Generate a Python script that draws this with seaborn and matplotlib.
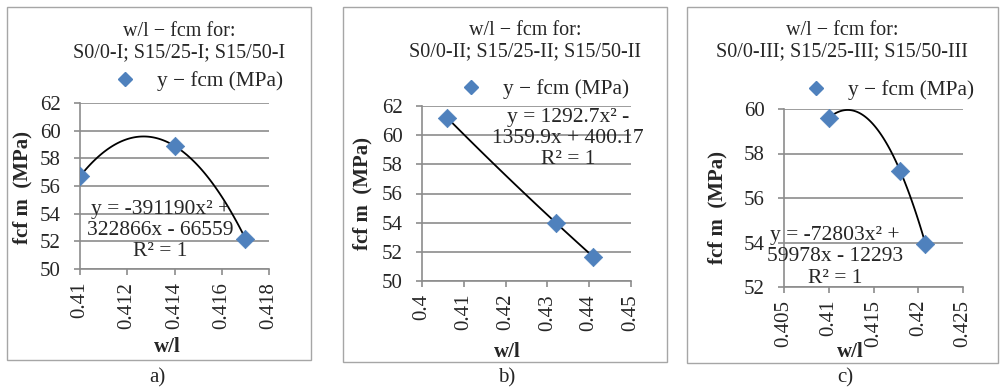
import numpy as np
import matplotlib
matplotlib.use("Agg")
import matplotlib.pyplot as plt
import seaborn as sns
from matplotlib.patches import Rectangle
from matplotlib.lines import Line2D
from matplotlib.ticker import FuncFormatter

# ---------------- data ----------------
wl_a = [0.410, 0.414, 0.417]
fcm_a = [56.7, 58.9, 52.2]
wl_b = [0.406, 0.432, 0.441]
fcm_b = [61.2, 54.0, 51.65]
wl_c = [0.410, 0.418, 0.4208]
fcm_c = [59.6, 57.2, 53.95]

titles = ["w/l \u2212 fcm for:\nS0/0-I; S15/25-I; S15/50-I",
          "w/l \u2212 fcm for:\nS0/0-II; S15/25-II; S15/50-II",
          "w/l \u2212 fcm for:\nS0/0-III; S15/25-III; S15/50-III"]
equations = ["y = -391190x\u00b2 +\n322866x - 66559\nR\u00b2 = 1",
             "y = 1292.7x\u00b2 -\n1359.9x + 400.17\nR\u00b2 = 1",
             "y = -72803x\u00b2 +\n59978x - 12293\nR\u00b2 = 1"]
captions = ["a)", "b)", "c)"]
xticks_all = [[0.410, 0.412, 0.414, 0.416, 0.418],
              [0.40, 0.41, 0.42, 0.43, 0.44, 0.45],
              [0.405, 0.410, 0.415, 0.420, 0.425]]
yticks_all = [[50, 52, 54, 56, 58, 60, 62],
              [50, 52, 54, 56, 58, 60, 62],
              [52, 54, 56, 58, 60]]
legend_label = "y \u2212 fcm (MPa)"

sns.set_style("white")
plt.rcParams['font.family'] = ['Liberation Serif', 'DejaVu Serif']

W, H = 1001, 390
fig = plt.figure(figsize=(W / 100, H / 100), dpi=100)

def fx(px):
    return px / W

def fy(py):
    return 1 - py / H

# axes boxes in pixels: left, right, top, bottom
boxes = [(80, 269, 103, 269), (422, 631, 106, 281), (784, 963, 109, 287)]
# panel frames in pixels
frames = [(7, 311, 7, 360), (343, 667, 7, 362), (687, 998, 7, 363)]
title_pos = [(179, 42), (525, 41), (842, 41)]
legend_pos = [(125, 81), (471, 89), (816, 90)]
eq_pos = [(0.4134, 52.8), (0.4349, 59.75), (0.4107, 53.35)]
caption_x = [157, 507, 845]
xlabel_pos = [(0.46, -0.41), (0.41, -0.349), (0.37, -0.31)]
ylabel_pos = [(-0.249, 0.49), (-0.239, 0.50), (-0.318, 0.447)]

blue = "#4F81BD"
grey = "#8C8C8C"
datasets = [(wl_a, fcm_a), (wl_b, fcm_b), (wl_c, fcm_c)]

for i, (xs, ys) in enumerate(datasets):
    l, r, t, b = boxes[i]
    ax = fig.add_axes([fx(l), fy(b), fx(r - l), (b - t) / H])

    # trendline (2nd order polynomial) + markers
    sns.regplot(x=np.array(xs), y=np.array(ys), order=2, ci=None, scatter=False,
                truncate=True, color="black", line_kws=dict(lw=1.3), ax=ax)
    sns.scatterplot(x=xs, y=ys, marker="D", s=88, color=blue, edgecolor=blue,
                    linewidth=0.5, ax=ax, zorder=3, legend=False)

    xt = xticks_all[i]
    yt = yticks_all[i]
    ax.set_xlim(xt[0], xt[-1])
    ax.set_ylim(yt[0], yt[-1])
    ax.set_xticks(xt)
    ax.set_yticks(yt)
    ax.xaxis.set_major_formatter(FuncFormatter(lambda v, p: "%g" % round(v, 4)))
    ax.tick_params(axis="x", rotation=90, labelsize=15, length=4.3, width=1.2,
                   color=grey, direction="out", pad=5, bottom=True)
    ax.tick_params(axis="y", labelsize=15, length=4.3, width=1.2, color=grey,
                   direction="out", pad=9.5, left=True)
    ax.grid(axis="y", color=grey, lw=1.2)
    ax.set_axisbelow(True)
    for s in ["top", "right"]:
        ax.spines[s].set_visible(False)
    for s in ["left", "bottom"]:
        ax.spines[s].set_color(grey)
        ax.spines[s].set_linewidth(1.2)

    ax.set_xlabel("w/l", fontsize=15, fontweight="bold")
    ax.set_ylabel("fcf m  (MPa)", fontsize=15, fontweight="bold")
    ax.xaxis.set_label_coords(*xlabel_pos[i])
    ax.yaxis.set_label_coords(*ylabel_pos[i])

    ex, ey = eq_pos[i]
    ax.text(ex, ey, equations[i], fontsize=15.5, ha="center", va="center",
            multialignment="center", linespacing=1.15)

    # title
    tx, ty = title_pos[i]
    fig.text(fx(tx), fy(ty), titles[i], fontsize=14.5, ha="center", va="center",
             linespacing=1.12)

    # legend
    mx, ly = legend_pos[i]
    handle = Line2D([], [], marker="D", ls="none", color=blue, markersize=7)
    fig.legend([handle], [legend_label], loc="center left", frameon=False,
               bbox_to_anchor=(fx(mx - 10.5), fy(ly)), fontsize=15.3,
               handletextpad=0.98, handlelength=1.0, borderpad=0, borderaxespad=0)

    # panel frame
    fl, fr, ft, fb = frames[i]
    fig.patches.append(Rectangle((fx(fl), fy(fb)), fx(fr - fl), (fb - ft) / H,
                                 transform=fig.transFigure, fill=False,
                                 edgecolor="#A6A6A6", lw=1.0))
    fig.text(fx(caption_x[i]), fy(378), captions[i], fontsize=15,
             ha="center", va="center")

fig.savefig("out.png", dpi=100)
